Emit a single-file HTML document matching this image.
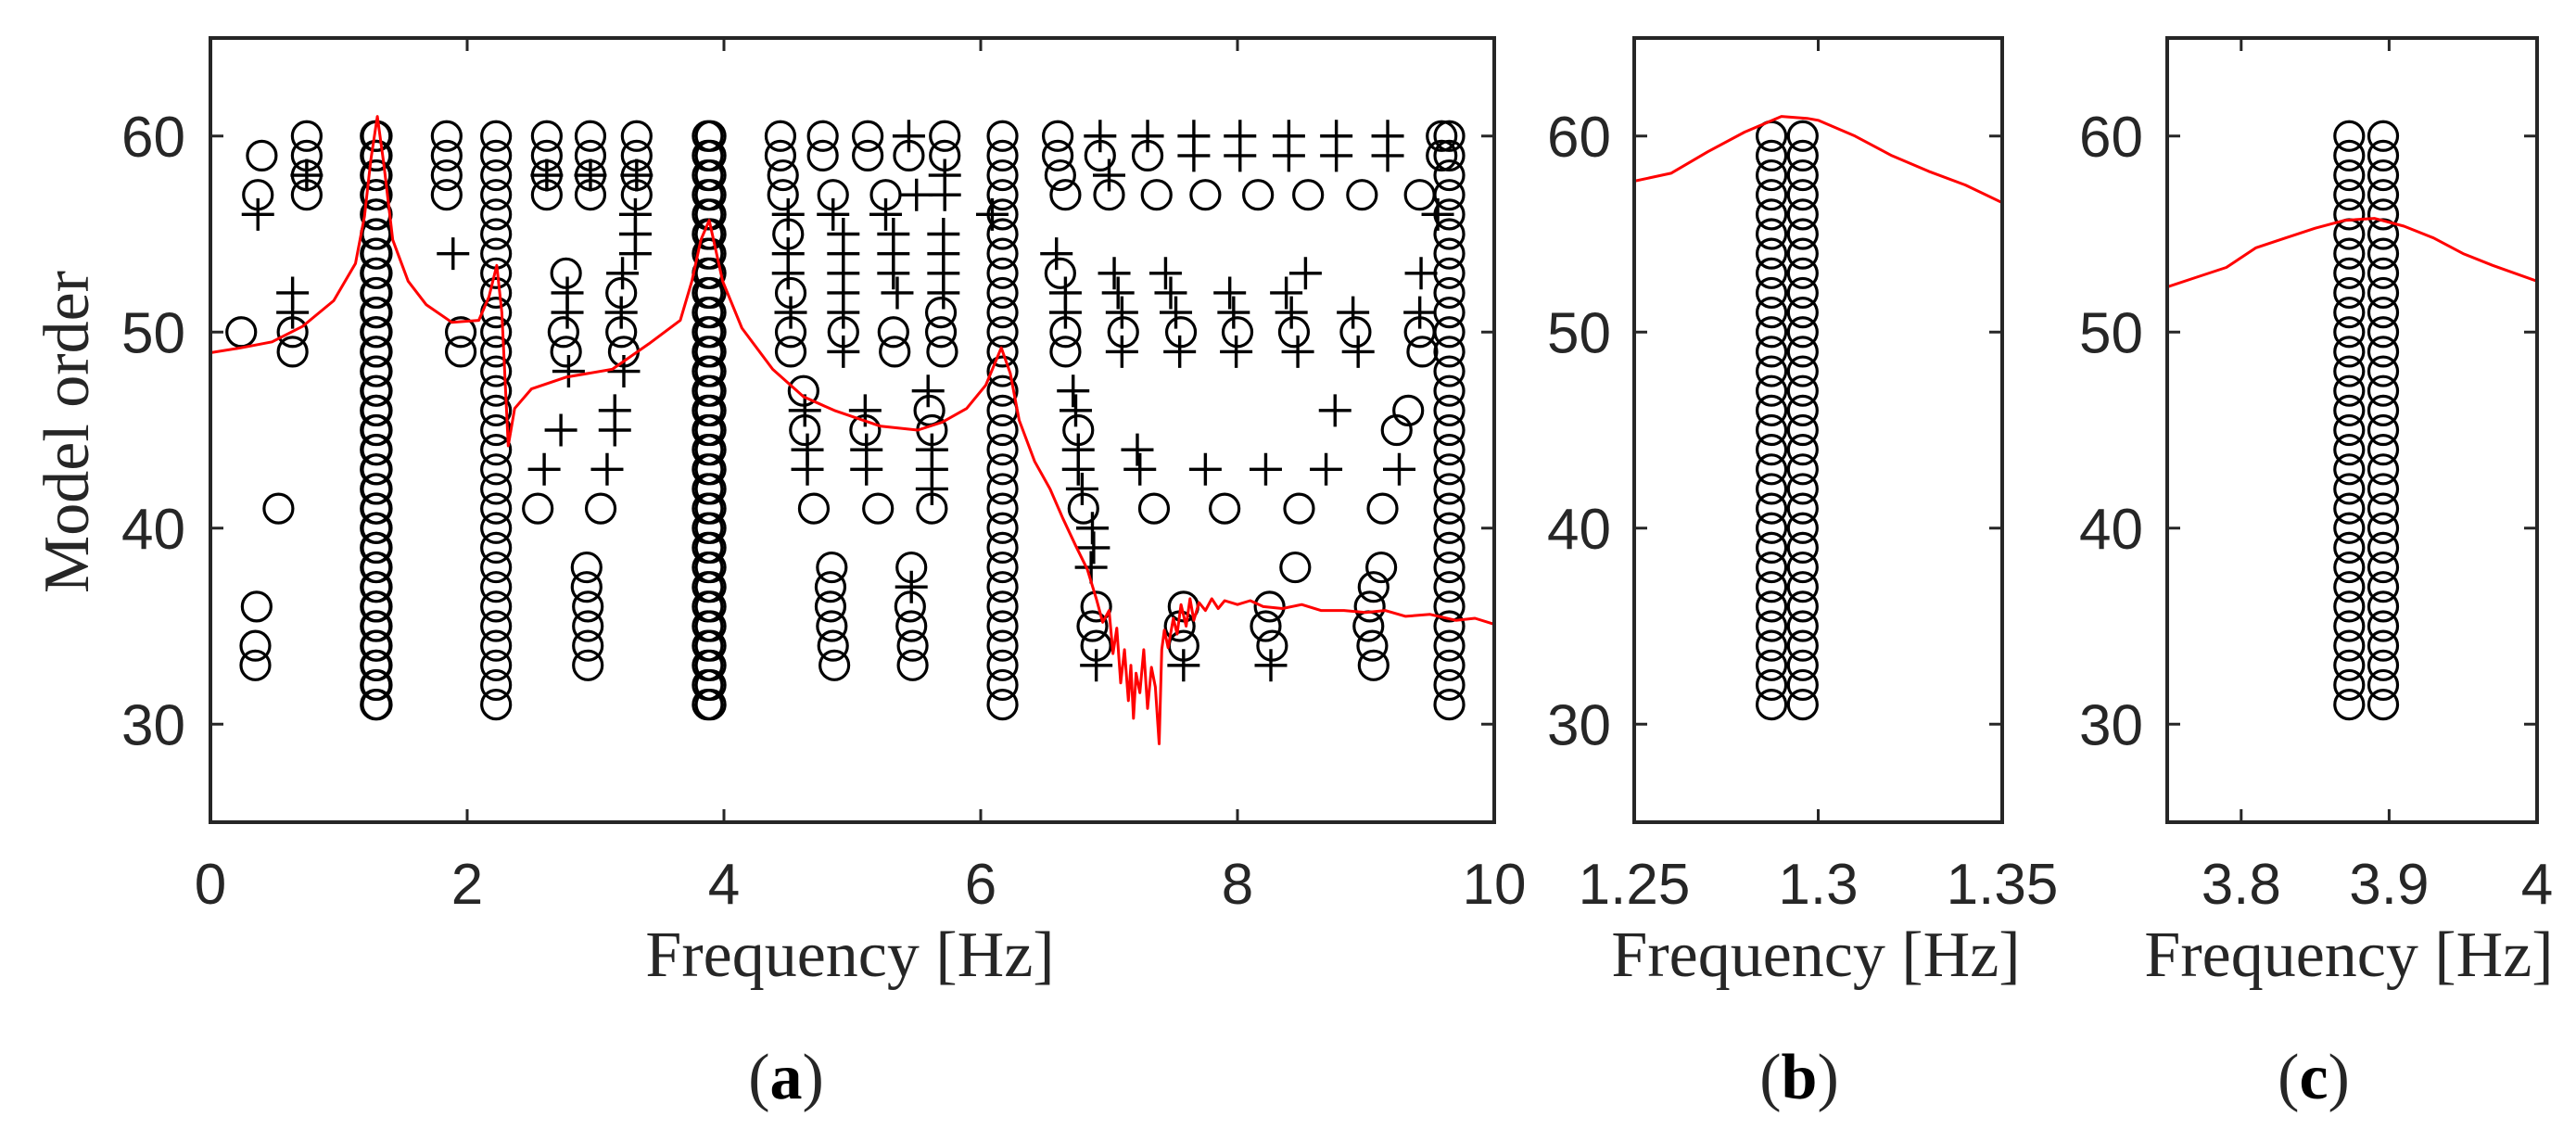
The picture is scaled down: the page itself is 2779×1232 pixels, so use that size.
<!DOCTYPE html>
<html><head><meta charset="utf-8"><style>
html,body{margin:0;padding:0;background:#fff;}
svg{display:block;}
.tk{font-family:"Liberation Sans",Arial,sans-serif;font-size:62px;fill:#262626;}
.lb{font-family:"Liberation Serif","Times New Roman",serif;font-size:70px;fill:#262626;}
</style></head><body>
<svg id="fig" width="2779" height="1232" viewBox="0 0 2779 1232" xmlns="http://www.w3.org/2000/svg">
<g id="root"></g>
</svg>
<script>
// ---------- data ----------
const orderMin = 31, orderMax = 60;
const stableFreqsA = [1.287, 1.296, 2.225, 3.873, 3.896, 6.17, 9.65];
const stableFreqsB = [1.2873, 1.2958];
const stableFreqsC = [3.873, 3.896];
const circlePts = [
 [0.40,59],[0.37,57],[0.75,60],[0.75,59],[0.75,58],[0.75,57],[0.24,50],[0.64,50],[0.64,49],[0.53,41],
 [0.36,36],[0.35,34],[0.35,33],[1.84,60],[1.84,59],[1.84,58],[1.84,57],[1.95,50],[1.95,49],
 [2.62,60],[2.62,59],[2.62,58],[2.62,57],[2.96,60],[2.96,59],[2.96,58],[2.96,57],
 [3.32,60],[3.32,59],[3.32,58],[3.32,57],[2.77,53],[2.75,50],[2.77,49],[3.2,52],[3.2,50],[3.22,49],
 [2.55,41],[3.04,41],[2.93,38],[2.93,37],[2.94,36],[2.94,35],[2.94,34],[2.94,33],
 [4.44,60],[4.44,59],[4.46,58],[4.46,57],[4.5,55],[4.52,52],[4.52,50],[4.52,49],
 [4.77,60],[4.77,59],[4.85,57],[4.93,50],[5.12,60],[5.12,59],[5.26,57],[5.32,50],[5.33,49],
 [5.44,59],[5.72,60],[5.72,59],[5.69,51],[5.69,50],[5.7,49],[6.6,60],[6.6,59],[6.62,58],[6.66,57],
 [6.62,53],[6.66,50],[6.66,49],[4.62,47],[4.63,45],[4.7,41],[5.1,45],[5.2,41],[5.6,46],[5.62,45],[5.62,41],
 [4.84,38],[4.83,37],[4.83,36],[4.84,35],[4.85,34],[4.86,33],[5.46,38],[5.45,36],[5.46,35],[5.47,34],[5.47,33],
 [6.76,45],[6.8,41],[6.9,36],[6.87,35],[6.9,34],[6.93,59],[7.0,57],[7.3,59],[7.37,57],[7.75,57],[8.16,57],
 [8.55,57],[8.97,57],[9.42,57],[9.59,60],[9.59,59],[7.11,50],[7.56,50],[8.0,50],[8.44,50],[8.92,50],[9.42,50],[9.44,49],
 [9.33,46],[9.24,45],[7.35,41],[7.9,41],[8.48,41],[9.13,41],[8.45,38],[9.12,38],[9.06,37],[9.03,36],[9.02,35],[9.05,34],[9.06,33],
 [7.58,36],[7.55,35],[7.58,34],[8.25,36],[8.22,35],[8.27,34]
];
const plusPts = [
 [0.37,56],[0.75,58],[0.64,52],[0.64,51],[1.89,54],[2.62,58],[2.96,58],[3.32,58],[3.31,56],[3.31,55],[3.31,54],[3.21,53],
 [2.78,52],[2.78,51],[2.79,48],[3.2,51],[3.22,48],[2.73,45],[2.60,43],[3.15,46],[3.15,45],[3.09,43],
 [4.5,56],[4.5,54],[4.5,53],[4.52,51],[4.85,56],[4.93,55],[4.93,54],[4.93,53],[4.93,52],[4.93,51],[4.93,49],
 [5.26,56],[5.32,55],[5.32,54],[5.32,53],[5.35,52],[5.44,60],[5.50,57],[5.72,58],[5.72,57],
 [5.71,55],[5.71,54],[5.71,53],[5.71,52],[6.09,56],[6.59,54],[6.66,52],[6.66,51],
 [4.63,46],[4.65,44],[4.65,43],[5.1,46],[5.11,44],[5.11,43],[5.59,47],[5.62,44],[5.62,43],[5.62,42],[5.46,37],
 [6.72,47],[6.74,46],[6.76,44],[6.76,43],[6.79,42],[6.87,40],[6.88,39],[6.86,38],[6.9,33],
 [6.93,60],[7.0,58],[7.3,60],[7.66,60],[7.66,59],[8.02,60],[8.02,59],[8.4,60],[8.4,59],[8.77,60],[8.77,59],[9.17,60],[9.17,59],[9.56,56],
 [7.04,53],[7.07,52],[7.1,51],[7.1,49],[7.44,53],[7.48,52],[7.52,51],[7.55,49],[7.94,52],[7.97,51],[7.99,49],
 [8.38,52],[8.42,51],[8.47,49],[8.53,53],[8.9,51],[8.94,49],[9.43,53],[9.42,51],[8.76,46],
 [7.22,44],[7.24,43],[7.75,43],[8.22,43],[8.69,43],[9.26,43],[7.58,33],[8.26,33]
];
const specFreq = [0,0.24,0.48,0.72,0.96,1.13,1.2,1.25,1.3,1.35,1.42,1.54,1.68,1.88,2.09,2.17,2.23,2.27,2.32,2.37,2.5,2.77,3.13,3.415,3.66,3.75,3.82,3.885,3.99,4.14,4.38,4.62,4.86,5.22,5.51,5.7,5.89,6.04,6.16,6.23,6.3,6.42,6.54,6.64,6.74,6.83,6.9,6.95,7.0,7.03,7.06,7.09,7.12,7.15,7.17,7.19,7.21,7.24,7.27,7.3,7.33,7.36,7.39,7.41,7.43,7.46,7.5,7.53,7.56,7.6,7.63,7.66,7.7,7.75,7.8,7.85,7.9,8.0,8.1,8.2,8.35,8.5,8.65,8.83,9.0,9.15,9.31,9.5,9.7,9.85,10];
const specVal  = [48.95,49.2,49.5,50.3,51.6,53.5,55.9,58.8,61,58.6,54.7,52.6,51.4,50.5,50.6,51.8,53.4,51,44.2,46.1,47.1,47.7,48.1,49.4,50.6,52.6,54.7,55.7,52.6,50.2,48.1,46.7,46,45.2,45,45.4,46.1,47.3,49.2,47.9,45.5,43.4,42,40.5,39.1,37.9,36.4,35.2,35.8,33.6,34.9,32.1,33.8,31.2,33.0,30.3,32.6,31.6,33.8,30.8,32.9,31.9,29.0,33.8,34.8,33.9,35.4,34.6,36.1,35.0,36.4,35.3,36.2,35.8,36.4,35.9,36.3,36.1,36.3,36.0,35.9,36.1,35.8,35.8,35.7,35.8,35.5,35.6,35.3,35.4,35.1];
const specBFreq = [1.25,1.26,1.27,1.28,1.29,1.297,1.30,1.31,1.32,1.33,1.34,1.35];
const specBVal  = [57.7,58.1,59.2,60.2,61.0,60.9,60.8,60.0,59.0,58.2,57.5,56.6];
const specCFreq = [3.75,3.77,3.79,3.81,3.83,3.85,3.87,3.89,3.91,3.93,3.95,3.97,4.0];
const specCVal  = [52.3,52.8,53.3,54.3,54.8,55.3,55.7,55.8,55.4,54.8,54.0,53.4,52.6];
const yTicks = [30,40,50,60];
const xTicksA = [0,2,4,6,8,10], xTickLabelsA = ["0","2","4","6","8","10"];
const xTicksB = [1.25,1.3,1.35], xTickLabelsB = ["1.25","1.3","1.35"];
const xTicksC = [3.8,3.9,4], xTickLabelsC = ["3.8","3.9","4"];

// ---------- drawing ----------
const NS = "http://www.w3.org/2000/svg";
const root = document.getElementById("root");
function mk(tag, attrs, parent){ const e=document.createElementNS(NS,tag); for(const k in attrs) e.setAttribute(k,attrs[k]); (parent||root).appendChild(e); return e; }
const TOP=41, BOT=887, YMIN=25, YMAX=65;
const sy = v => BOT - (v-YMIN)/(YMAX-YMIN)*(BOT-TOP);

function panel(name, L, R, xmin, xmax, xt, xtl, stable, circ, plus, sf, sv, ylblRight, xlabelX, tagX, tagLetter){
  const g = mk("g", {});
  
  
  const sx = v => L + (v-xmin)/(xmax-xmin)*(R-L);
  const clip = mk("clipPath", {id:"clip-"+name}, g);
  mk("rect",{x:L,y:TOP,width:R-L,height:BOT-TOP},clip);
  const marks = mk("g",{"clip-path":"url(#clip-"+name+")"},g);
  // stable columns
  stable.forEach(f=>{ for(let o=orderMin;o<=orderMax;o++){ const c=mk("circle",{cx:sx(f),cy:sy(o),r:15.5,fill:"none",stroke:"#000","stroke-width":3.2},marks);
    
     } });
  circ.forEach(p=>{ const c=mk("circle",{cx:sx(p[0]),cy:sy(p[1]),r:15.5,fill:"none",stroke:"#000","stroke-width":3.2},marks);
    
     });
  plus.forEach(p=>{ const x=sx(p[0]), y=sy(p[1]);
    const e=mk("path",{d:`M${x-17.5},${y}H${x+17.5}M${x},${y-17.5}V${y+17.5}`,stroke:"#000","stroke-width":3.4,fill:"none"},marks);
    
     });
  let d=""; sf.forEach((f,i)=>{ d += (i?"L":"M")+sx(f).toFixed(1)+","+sy(sv[i]).toFixed(1); });
  const ln = mk("path",{d:d,stroke:"#ff0000","stroke-width":3,fill:"none","stroke-linejoin":"round"},marks);
  
  
  // axes
  const ax = mk("rect",{x:L,y:TOP,width:R-L,height:BOT-TOP,fill:"none",stroke:"#262626","stroke-width":4},g);
  
  
  yTicks.forEach(v=>{ const y=sy(v);
    mk("path",{d:`M${L},${y}H${L+14}M${R},${y}H${R-14}`,stroke:"#262626","stroke-width":3},g);
    const t=mk("text",{x:ylblRight,y:y+22,"text-anchor":"end",class:"tk"},g); t.textContent=v;
    
     });
  xt.forEach((v,i)=>{ const x=sx(v);
    mk("path",{d:`M${x},${BOT}V${BOT-14}M${x},${TOP}V${TOP+14}`,stroke:"#262626","stroke-width":3},g);
    const t=mk("text",{x:x,y:975,"text-anchor":"middle",class:"tk"},g); t.textContent=xtl[i];
    
     });
  const xl=mk("text",{x:xlabelX,y:1053,"text-anchor":"middle",class:"lb"},g); xl.textContent="Frequency [Hz]";
  
  
  const tg=mk("text",{x:tagX,y:1185,"text-anchor":"middle",class:"lb"},g);
  tg.innerHTML='(<tspan font-weight="bold" fill="#000">'+tagLetter+'</tspan>)';
  
  
}
panel("panel-a",227,1612,0,10,xTicksA,xTickLabelsA,stableFreqsA,circlePts,plusPts,specFreq,specVal,200,917,848,"a");
panel("panel-b",1763,2160,1.25,1.35,xTicksB,xTickLabelsB,stableFreqsB,[],[],specBFreq,specBVal,1738,1959,1941,"b");
panel("panel-c",2338,2737,3.75,4,xTicksC,xTickLabelsC,stableFreqsC,[],[],specCFreq,specCVal,2312,2534,2496,"c");
const yl = mk("text",{x:0,y:0,"text-anchor":"middle",class:"lb",transform:"translate(95,466) rotate(-90)"});
yl.textContent="Model order";


</script>
</body></html>
